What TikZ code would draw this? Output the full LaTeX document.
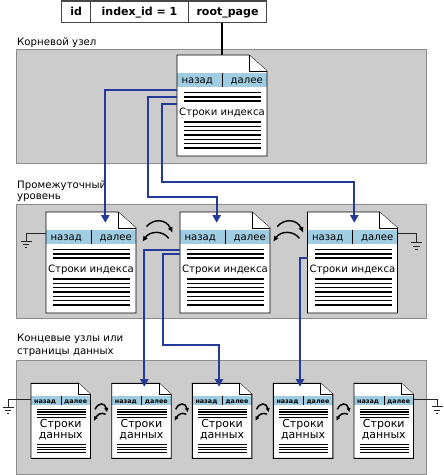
\documentclass[tikz,border=0pt]{standalone}
\usepackage{fontspec}
\setmainfont{DejaVu Sans}
\usetikzlibrary{arrows.meta,calc}
\definecolor{boxgray}{RGB}{204,204,204}
\definecolor{boxedge}{RGB}{140,140,140}
\definecolor{hdrblue}{RGB}{160,205,226}
\definecolor{linkblue}{RGB}{36,58,152}
\definecolor{tabedge}{RGB}{70,70,70}
\tikzset{
  tierbox/.style={fill=boxgray, draw=boxedge, line width=0.9pt},
  pageedge/.style={draw=black, line width=0.9pt},
  rowline/.style={line width=1.4pt},
  smallrow/.style={line width=1.2pt},
  bluelink/.style={draw=linkblue, line width=2pt, -{Triangle[length=7.5pt,width=8pt]}},
  flipper/.style={line width=1.4pt, -{Latex[length=5.5pt,width=5.5pt]}},
  smallflip/.style={line width=1.5pt, -{Latex[length=4.2pt,width=4.5pt]}},
  gndline/.style={line width=0.8pt, draw=black!85},
  lbl/.style={anchor=base west, inner sep=0pt, font=\fontsize{10.2}{12}\selectfont},
  tabcell/.style={draw=tabedge, line width=1.1pt, fill=white, minimum height=21.7pt, inner sep=0pt,
     text height=9pt, text depth=1pt, font=\fontsize{11}{12}\bfseries},
  bigtxt/.style={inner sep=0pt, anchor=base, font=\fontsize{10.1}{12}\selectfont},
  hdrtxt/.style={inner sep=0pt, font=\fontsize{10.1}{12}\selectfont},
  leafhdr/.style={inner sep=0pt, font=\fontsize{6.4}{8}\bfseries},
  leaftxt/.style={inner sep=0pt, anchor=base, font=\fontsize{11}{12}\selectfont},
  pagebox/.style={inner sep=0pt, outer sep=0pt},
}
\newcommand\bigpg[3]{%
\begin{scope}[shift={(#2,#3)}]
  \fill[white] (0,0) -- (72,0) -- (90,16) -- (90,101) -- (0,101) -- cycle;
  \fill[hdrblue] (0,17.5) rectangle (90,31.5);
  \draw[line width=0.9pt] (45,17.5) -- (45,31.5);
  \foreach \yy in {37.5,41.8,46.1,67,71.3,75.6,79.9,84.2,88.5,92.8}
    \draw[rowline] (7,\yy) -- (84,\yy);
  \draw[pageedge] (0,0) -- (72,0) -- (90,16) -- (90,101) -- (0,101) -- cycle;
  \draw[pageedge, fill=white, line join=miter] (72,0) -- (72,16) -- (90,16);
  \node[pagebox, minimum width=90pt, minimum height=101pt] (#1) at (45,50.5) {};
  \node[bigtxt] (#1-txt) at (45,60.8) {Строки индекса};
  \node[hdrtxt, anchor=base west] (#1-back) at (4.3,28) {назад};
  \node[hdrtxt, anchor=base east] (#1-next) at (86,28) {далее};
\end{scope}}
\newcommand\leafpg[3]{%
\begin{scope}[shift={(#2,#3)}]
  \fill[white] (0,0) -- (47.5,0) -- (59.5,11) -- (59.5,75) -- (0,75) -- cycle;
  \fill[hdrblue] (0,13) rectangle (59.5,21.5);
  \draw[line width=0.8pt] (30,13) -- (30,21.5);
  \foreach \yy in {26,28.6,31.2,33.8,61.3,63.8,66.3,68.8}
    \draw[smallrow] (5.5,\yy) -- (55,\yy);
  \draw[pageedge] (0,0) -- (47.5,0) -- (59.5,11) -- (59.5,75) -- (0,75) -- cycle;
  \draw[pageedge, fill=white] (47.5,0) -- (47.5,11) -- (59.5,11);
  \node[pagebox, minimum width=59.5pt, minimum height=75pt] (#1) at (29.75,37.5) {};
  \node[leaftxt] (#1-t1) at (29.75,44) {Строки};
  \node[leaftxt] (#1-t2) at (29.75,54.7) {данных};
  \node[leafhdr, anchor=base west] (#1-back) at (3,19.7) {назад};
  \node[leafhdr, anchor=base east] (#1-next) at (56.3,19.7) {далее};
\end{scope}}
\newcommand\gndsym[3]{% name, x, y
  \coordinate (#1) at (#2,#3);
  \draw[gndline] ($(#1)+(-5.5,0)$) -- ($(#1)+(5.5,0)$);
  \draw[gndline] ($(#1)+(-3.2,3.4)$) -- ($(#1)+(3.2,3.4)$);
  \draw[gndline] ($(#1)+(-1.4,6.8)$) -- ($(#1)+(1.4,6.8)$);}
\begin{document}
\begin{tikzpicture}[x=1pt,y=-1pt]
\useasboundingbox (0,0) rectangle (444,475);
% tiers
\path[tierbox] (16.7,49.3) rectangle (426.7,163.3);
\path[tierbox] (16.7,204.3) rectangle (426.7,318.3);
\path[tierbox] (16.7,360.7) rectangle (426.7,474.2);
\node[lbl] (lroot) at (17,45.7) {Корневой узел};
\node[lbl] (lmid1) at (17,188.3) {Промежуточный};
\node[lbl] (lmid2) at (17,199.6) {уровень};
\node[lbl] (lleaf1) at (17,341.7) {Концевые узлы или};
\node[lbl] (lleaf2) at (17,354.5) {страницы данных};
% table
\node[tabcell, minimum width=29pt] (cid) at (76.2,11.85) {id};
\node[tabcell, minimum width=97.6pt] (cidx) at (139.5,11.85) {index\_id = 1};
\node[tabcell, minimum width=78.4pt] (croot) at (227.5,11.85) {root\_page};
% pages
\bigpg{root}{177}{55}
\bigpg{i1}{46}{212}
\bigpg{i2}{180}{212}
\bigpg{i3}{307.5}{212}
\leafpg{l1}{31}{383.3}
\leafpg{l2}{111.7}{383.3}
\leafpg{l3}{192.3}{383.3}
\leafpg{l4}{273.3}{383.3}
\leafpg{l5}{354}{383.3}
% root pointer
\draw[line width=1.5pt] (croot.south -| root.north) -- (root.north);
% blue links root -> intermediate
\coordinate (ro1) at ($(root.west)+(0,-15.5)$);
\coordinate (ro2) at ($(root.west)+(0,-8.2)$);
\coordinate (ro3) at ($(root.west)+(0,-1.5)$);
\coordinate (ti1) at (105.3,222.7);
\coordinate (ti2) at (216.7,222.7);
\coordinate (ti3) at (354.3,222.7);
\coordinate (k2) at (148.3,196.7);
\coordinate (k3) at (162.3,182.3);
\draw[bluelink] (ro1) -| (ti1);
\draw[bluelink] (ro2) -| (k2) -| (ti2);
\draw[bluelink] (ro3) -| (k3) -| (ti3);
% blue links intermediate -> leaves
\coordinate (io1) at ($(i2.west)+(0,-12.5)$);
\coordinate (io2) at ($(i2.west)+(0,-8.2)$);
\coordinate (io3) at ($(i3.west)+(0,-4.2)$);
\coordinate (tl2) at (144.3,386.7);
\coordinate (tl3) at (219,386.7);
\coordinate (tl4) at (300,386.7);
\coordinate (k5) at (163.3,345);
\draw[bluelink] (io1) -| (tl2);
\draw[bluelink] (io2) -| (k5) -| (tl3);
\draw[bluelink] (io3) -| (tl4);
% sibling arrows, intermediate
\coordinate (g1) at ($(i1.east)!0.5!(i2.west)$);
\coordinate (g2) at ($(i2.east)!0.5!(i3.west)$);
\foreach \g in {g1,g2}{
\begin{scope}[shift={(\g)}]
  \draw[flipper] (-11.5,-35.8) .. controls (-5,-44) and (8,-44) .. (14.5,-29.8);
  \draw[flipper] (10.7,-24.2) .. controls (5,-32) and (-8,-32) .. (-15.5,-20.8);
\end{scope}}
% sibling arrows, leaves
\coordinate (h1) at ($(l1.east)!0.5!(l2.west)$);
\coordinate (h2) at ($(l2.east)!0.5!(l3.west)$);
\coordinate (h3) at ($(l3.east)!0.5!(l4.west)$);
\coordinate (h4) at ($(l4.east)!0.5!(l5.west)$);
\foreach \g in {h1,h2,h3,h4}{
\begin{scope}[shift={(\g)}]
  \draw[smallflip] (-6,-11.5) .. controls (-3,-18.5) and (4,-18.5) .. (6,-8.5);
  \draw[smallflip] (4.5,-6.5) .. controls (0.5,-9) and (-4,-6) .. (-7,0);
\end{scope}}
% grounds
\gndsym{gi1}{26}{241}
\gndsym{gi3}{416.5}{242.5}
\gndsym{gl1}{8}{407}
\gndsym{gl5}{437}{406.7}
\draw[gndline] ($(i1.west)+(0,-29)$) -| (gi1);
\draw[gndline] ($(i3.east)+(0,-29)$) -| (gi3);
\draw[gndline] ($(l1.west)+(0,-21.5)$) -| (gl1);
\draw[gndline] ($(l5.east)+(0,-21.5)$) -| (gl5);
\end{tikzpicture}
\end{document}
